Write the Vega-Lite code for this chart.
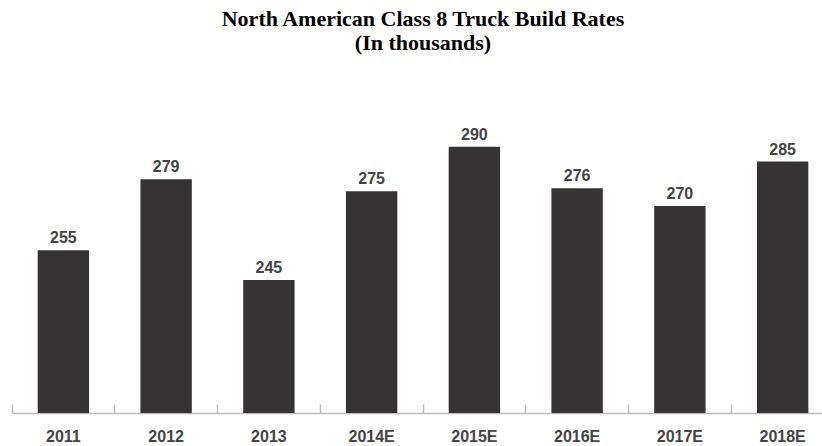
{
  "$schema": "https://vega.github.io/schema/vega-lite/v6.json",
  "width": 810,
  "height": 355,
  "autosize": {"type": "none"},
  "padding": {"left": 12, "top": 58, "right": 0, "bottom": 33},
  "background": "white",
  "title": {
    "text": ["North American Class 8 Truck Build Rates", "(In thousands)"],
    "font": "Liberation Serif",
    "fontWeight": "bold",
    "fontSize": 22,
    "lineHeight": 24,
    "color": "black",
    "anchor": "middle",
    "dx": 6,
    "offset": 3
  },
  "data": {
    "values": [
      {"year": "2011", "value": 255},
      {"year": "2012", "value": 279},
      {"year": "2013", "value": 245},
      {"year": "2014E", "value": 275},
      {"year": "2015E", "value": 290},
      {"year": "2016E", "value": 276},
      {"year": "2017E", "value": 270},
      {"year": "2018E", "value": 285}
    ]
  },
  "encoding": {
    "x": {
      "field": "year",
      "type": "nominal",
      "sort": null,
      "scale": {"range": [0, 822], "paddingInner": 0.5, "paddingOuter": 0.25},
      "axis": {
        "title": null,
        "labelAngle": 0,
        "labelFont": "Liberation Sans",
        "labelFontSize": 16,
        "labelFontWeight": "bold",
        "labelColor": "#444444",
        "labelPadding": 24,
        "bandPosition": -0.5,
        "tickSize": -9,
        "tickColor": "#bdbdbd",
        "tickWidth": 1.5,
        "domainColor": "#bdbdbd",
        "domainWidth": 1.5
      }
    },
    "y": {
      "field": "value",
      "type": "quantitative",
      "scale": {"domain": [200, 320], "zero": false, "nice": false},
      "axis": null
    }
  },
  "layer": [
    {"mark": {"type": "bar", "color": "#353334", "clip": true}},
    {
      "mark": {"type": "text", "dy": -7, "baseline": "alphabetic", "font": "Liberation Sans", "fontSize": 16, "fontWeight": "bold", "color": "#444444"},
      "encoding": {"text": {"field": "value", "type": "quantitative"}}
    }
  ],
  "config": {"view": {"stroke": null}}
}
